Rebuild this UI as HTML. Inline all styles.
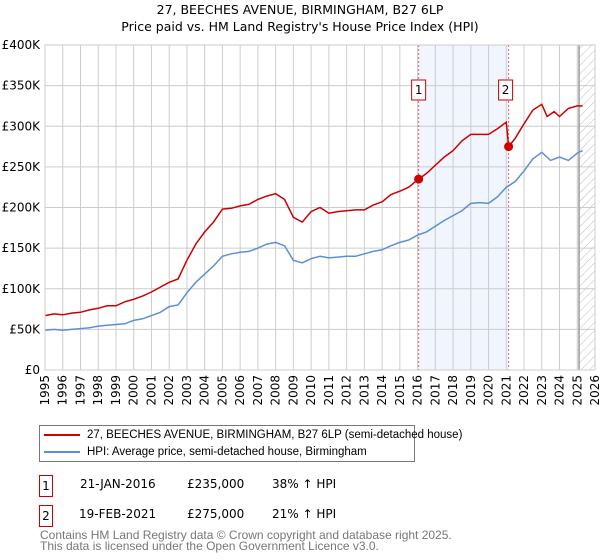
<!DOCTYPE html>
<html><head><meta charset="utf-8"><style>
body{margin:0;background:#fff;font-family:"DejaVu Sans","Liberation Sans",sans-serif;}
#wrap{position:relative;width:600px;height:560px;overflow:hidden}
.t{position:absolute;font-size:12px;color:#000;white-space:nowrap}
.box{position:absolute;border:1px solid #c00;width:12px;height:20px;font-size:12px;text-align:center;line-height:20px}
.lg{position:absolute;font-family:"Liberation Sans",sans-serif;font-size:11.5px;white-space:nowrap;line-height:14px}
</style></head><body><div id="wrap">
<svg id="svg" width="600" height="420" style="position:absolute;left:0;top:0">
<defs><pattern id="hatch" width="6" height="6" patternUnits="userSpaceOnUse" patternTransform="rotate(45)"><line x1="0" y1="0" x2="0" y2="6" stroke="#bbb" stroke-width="1"/></pattern></defs>
<text x="300" y="14" text-anchor="middle" font-size="12.5">27, BEECHES AVENUE, BIRMINGHAM, B27 6LP</text>
<text x="300" y="31" text-anchor="middle" font-size="12.5">Price paid vs. HM Land Registry's House Price Index (HPI)</text>
</svg>
<div style="position:absolute;left:39px;top:425px;width:374px;height:35px;border:1px solid #777">
<div style="position:absolute;left:4px;top:8px;width:36px;height:2px;background:#c00"></div>
<div class="lg" style="left:47px;top:2px">27, BEECHES AVENUE, BIRMINGHAM, B27 6LP (semi-detached house)</div>
<div style="position:absolute;left:4px;top:25px;width:36px;height:2px;background:#5b8fd6"></div>
<div class="lg" style="left:47px;top:19px">HPI: Average price, semi-detached house, Birmingham</div>
</div>
<div class="box" style="left:39px;top:475px">1</div>
<div class="t" style="left:80px;top:477px">21-JAN-2016</div>
<div class="t" style="left:187px;top:477px">£235,000</div>
<div class="t" style="left:272px;top:477px">38% ↑ HPI</div>
<div class="box" style="left:39px;top:505px">2</div>
<div class="t" style="left:79px;top:507px">19-FEB-2021</div>
<div class="t" style="left:187px;top:507px">£275,000</div>
<div class="t" style="left:272px;top:507px">21% ↑ HPI</div>
<div class="lg" style="left:40px;top:530px;color:#777;font-size:12px;line-height:11px">Contains HM Land Registry data © Crown copyright and database right 2025.<br>This data is licensed under the Open Government Licence v3.0.</div>
</div>
<script>
const hpiYears=[1995,1995.5,1996,1996.5,1997,1997.5,1998,1998.5,1999,1999.5,2000,2000.5,2001,2001.5,2002,2002.5,2003,2003.5,2004,2004.5,2005,2005.5,2006,2006.5,2007,2007.5,2008,2008.5,2009,2009.5,2010,2010.5,2011,2011.5,2012,2012.5,2013,2013.5,2014,2014.5,2015,2015.5,2016,2016.5,2017,2017.5,2018,2018.5,2019,2019.5,2020,2020.5,2021,2021.5,2022,2022.5,2023,2023.5,2024,2024.5,2025,2025.3];
const hpiValues=[49,50,49,50,51,52,54,55,56,57,61,63,67,71,78,80,95,108,118,128,140,143,145,146,150,155,157,153,135,132,137,140,138,139,140,140,143,146,148,153,157,160,166,170,177,184,190,196,205,206,205,213,225,232,245,260,268,258,262,258,267,270];
const priceYears=[1995,1995.5,1996,1996.5,1997,1997.5,1998,1998.5,1999,1999.5,2000,2000.5,2001,2001.5,2002,2002.5,2003,2003.5,2004,2004.5,2005,2005.5,2006,2006.5,2007,2007.5,2008,2008.5,2009,2009.5,2010,2010.5,2011,2011.5,2012,2012.5,2013,2013.5,2014,2014.5,2015,2015.5,2016.06,2016.5,2017,2017.5,2018,2018.5,2019,2019.5,2020,2020.5,2021,2021.13,2021.5,2022,2022.5,2023,2023.3,2023.7,2024,2024.5,2025,2025.3];
const priceValues=[67,69,68,70,71,74,76,79,79,84,87,91,96,102,108,112,135,155,170,182,198,199,202,204,210,214,217,210,188,182,195,200,193,195,196,197,197,203,207,216,220,225,235,242,252,262,270,282,290,290,290,297,305,275,285,303,320,327,312,318,312,322,325,325];
const saleYears=[2016.06,2021.13];
const saleValues=[235,275];
const saleLabels=["1","2"];
const yTicks=[0,50,100,150,200,250,300,350,400];
const yTickLabels=["£0","£50K","£100K","£150K","£200K","£250K","£300K","£350K","£400K"];
const xTicks=[1995,1996,1997,1998,1999,2000,2001,2002,2003,2004,2005,2006,2007,2008,2009,2010,2011,2012,2013,2014,2015,2016,2017,2018,2019,2020,2021,2022,2023,2024,2025,2026];

const L=45,R=595,T=45,B=370;
const x=v=>L+(v-1995)/31*(R-L);
const y=v=>B-v/400*(B-T);
const svg=document.getElementById('svg');
const NS='http://www.w3.org/2000/svg';
function mk(tag,attrs){const e=document.createElementNS(NS,tag);for(const k in attrs)e.setAttribute(k,attrs[k]);svg.appendChild(e);return e;}
let e;
e=mk('rect',{x:x(saleYears[0]),y:T,width:x(saleYears[1])-x(saleYears[0]),height:B-T,fill:'#eef3fc',opacity:0.8});


e=mk('rect',{x:x(2025.1),y:T,width:R-x(2025.1),height:B-T,fill:'url(#hatch)'});


xTicks.forEach(t=>{
 e=mk('line',{x1:x(t),x2:x(t),y1:T,y2:B,stroke:'#ccc','stroke-width':1});
 
 
 e=mk('text',{x:0,y:0,transform:`translate(${x(t)+4},${B+5}) rotate(-90)`,'text-anchor':'end','font-size':12});
 e.textContent=t;
 
 
});
yTicks.forEach((t,i)=>{
 e=mk('line',{x1:L,x2:R,y1:y(t),y2:y(t),stroke:'#ccc','stroke-width':1});
 
 
 e=mk('text',{x:L-5,y:y(t)+4,'text-anchor':'end','font-size':12});
 e.textContent=yTickLabels[i];
 
 
});
e=mk('line',{x1:x(2025.1),x2:x(2025.1),y1:T,y2:B,stroke:'#999','stroke-width':1.5});


saleYears.forEach((s,i)=>{
 e=mk('line',{x1:x(s),x2:x(s),y1:T,y2:B,stroke:'#e06060','stroke-width':1,'stroke-dasharray':'2,2'});
 
 
 e=mk('rect',{x:x(s)-7-(i?3:0),y:80,width:14,height:20,fill:'#fff',stroke:'#c00'});
 
 
 e=mk('text',{x:x(s)-(i?3:0),y:94,'text-anchor':'middle','font-size':12});
 e.textContent=saleLabels[i];
 
 
});
e=mk('path',{d:hpiYears.map((v,i)=>(i?'L':'M')+x(v).toFixed(1)+','+y(hpiValues[i]).toFixed(1)).join(''),fill:'none',stroke:'#5b8fd6','stroke-width':1.5});


e=mk('path',{d:priceYears.map((v,i)=>(i?'L':'M')+x(v).toFixed(1)+','+y(priceValues[i]).toFixed(1)).join(''),fill:'none',stroke:'#c00','stroke-width':1.5});


saleYears.forEach((s,i)=>{
 e=mk('circle',{cx:x(s),cy:y(saleValues[i]),r:4.5,fill:'#c00'});
 
 
});
e=mk('rect',{x:L,y:T,width:R-L,height:B-T,fill:'none',stroke:'#ccc'});


</script>
</body></html>
